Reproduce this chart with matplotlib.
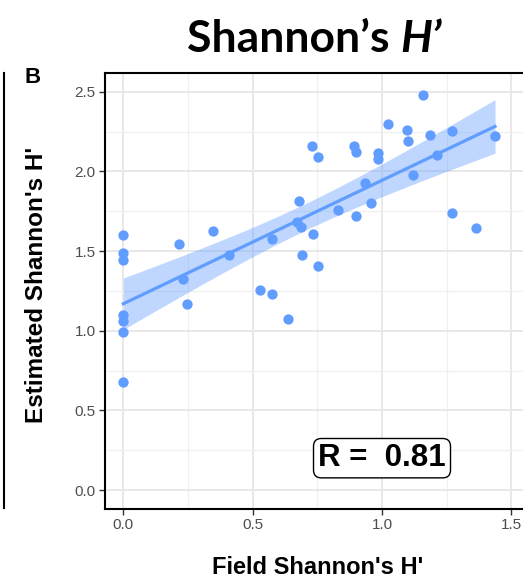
import matplotlib
matplotlib.use("Agg")
import matplotlib.pyplot as plt
from matplotlib.ticker import MultipleLocator
from matplotlib.lines import Line2D
import numpy as np

# Field vs estimated Shannon's H' per plot
field_h = [0.0, 0.0, 0.0, 0.0, 0.0, 0.0, 0.0,
           0.214, 0.231, 0.245, 0.348, 0.407, 0.527, 0.576, 0.576,
           0.635, 0.673, 0.678, 0.686, 0.691, 0.728, 0.735, 0.751, 0.751,
           0.829, 0.891, 0.900, 0.901, 0.936, 0.957, 0.983, 0.983,
           1.022, 1.097, 1.102, 1.119, 1.158, 1.186, 1.211, 1.272, 1.272,
           1.365, 1.437]
est_h = [1.600, 1.486, 1.444, 1.099, 1.063, 0.994, 0.676,
         1.544, 1.325, 1.166, 1.626, 1.473, 1.255, 1.574, 1.232,
         1.071, 1.680, 1.812, 1.653, 1.473, 2.159, 1.605, 2.090, 1.404,
         1.760, 2.159, 1.722, 2.122, 1.927, 1.804, 2.114, 2.076,
         2.296, 2.260, 2.193, 1.980, 2.480, 2.226, 2.103, 2.252, 1.741,
         1.645, 2.222]
r_value = 0.81

x_ticks = [0.0, 0.5, 1.0, 1.5]
y_ticks = [0.0, 0.5, 1.0, 1.5, 2.0, 2.5]

blue = "#619CFF"

W, H = 523, 580
fig = plt.figure(figsize=(W / 100, H / 100), dpi=100)
ax = fig.add_axes([104.7 / W, (H - 509) / H, (526 - 104.7) / W, (509 - 73) / H])

# linear fit with 95% confidence band (same as geom_smooth(method="lm"))
x = np.array(field_h)
y = np.array(est_h)
n = len(x)
slope, intercept = np.polyfit(x, y, 1)
resid = y - (intercept + slope * x)
s = np.sqrt(np.sum(resid ** 2) / (n - 2))
sxx = np.sum((x - x.mean()) ** 2)
xg = np.linspace(x.min(), x.max(), 100)
yg = intercept + slope * xg
se = s * np.sqrt(1 / n + (xg - x.mean()) ** 2 / sxx)
t_crit = 2.02
ax.fill_between(xg, yg - t_crit * se, yg + t_crit * se, color=blue, alpha=0.4,
                linewidth=0, zorder=2)

ax.scatter(x, y, s=55, color=blue, linewidths=0, zorder=3)
ax.plot(xg, yg, color=blue, lw=2.3, zorder=4)

ax.set_xlim(-0.072, (526 - 123.3) / 258.7)
ax.set_ylim(-0.119, 2.618)
ax.set_xticks(x_ticks)
ax.set_yticks(y_ticks)
ax.xaxis.set_minor_locator(MultipleLocator(0.25))
ax.yaxis.set_minor_locator(MultipleLocator(0.25))
ax.grid(which="major", color="#E8E8E8", lw=1.4, zorder=0)
ax.grid(which="minor", color="#F0F0F0", lw=0.9, zorder=0)
ax.set_axisbelow(True)
ax.tick_params(which="major", length=4, width=1, color="#333333",
               labelcolor="#4D4D4D", labelsize=11, pad=2.5)
ax.tick_params(which="minor", length=0)
for lab in ax.get_xticklabels() + ax.get_yticklabels():
    lab.set_family("Liberation Sans")
for sp in ax.spines.values():
    sp.set_color("black")
    sp.set_linewidth(1.5)

ax.text(1.0, 0.2, f"R =  {r_value:.2f}",
        family="Liberation Sans", weight="bold", fontsize=22.5,
        ha="center", va="center", zorder=5,
        bbox=dict(boxstyle="round,pad=0.15,rounding_size=0.25",
                  fc="white", ec="black", lw=1))

fig.text(318 / W, 1 - 567 / H, "Field Shannon's H'", family="Liberation Sans",
         weight="bold", fontsize=17, ha="center", va="center")
fig.text(37 / W, 1 - 285 / H, "Estimated Shannon's H'", family="Liberation Sans",
         weight="bold", fontsize=17.5, ha="center", va="center", rotation=90)
fig.text(33 / W, 1 - 78 / H, "B", family="Liberation Sans", weight="bold",
         fontsize=16, ha="center", va="center")

# title: upright "Shannon’s" followed by italic H’
t1 = fig.text(187 / W, 1 - 52 / H, "Shannon’s ", family="Lato", weight="bold",
              fontsize=32, ha="left", va="baseline")
fig.canvas.draw()
bb = t1.get_window_extent()
fig.text(bb.x1 / W, 1 - 52 / H, "H’", family="Lato", weight="bold",
         style="italic", fontsize=32, ha="left", va="baseline")

# edge of the neighbouring panel
fig.add_artist(Line2D([3.5 / W, 3.5 / W], [1 - 73 / H, 1 - 508 / H],
                      color="black", lw=1.5))

fig.savefig("out.png", dpi=100)
